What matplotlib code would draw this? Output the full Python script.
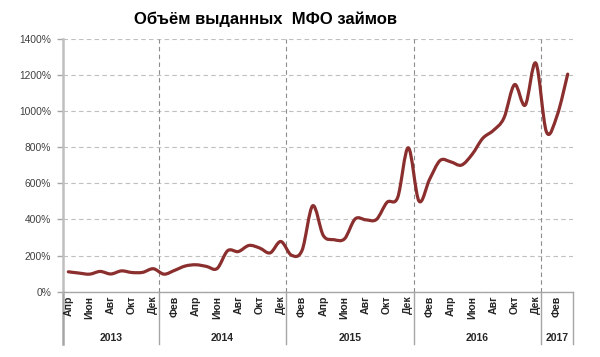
import numpy as np
import matplotlib.pyplot as plt
from matplotlib.path import Path
from matplotlib.patches import PathPatch
from matplotlib.transforms import blended_transform_factory

plt.rcParams['font.family'] = ['Liberation Sans', 'DejaVu Sans']

# monthly values, Apr 2013 .. Mar 2017 (%)
values = [110, 103, 97, 112, 98, 115, 106, 107, 127,
          97, 118, 142, 149, 140, 128, 227, 222, 256, 242, 215, 278,
          202, 229, 476, 311, 288, 293, 403, 398, 400, 495, 522, 797,
          502, 622, 727, 719, 701, 760, 849, 893, 962, 1147, 1033, 1266,
          885, 975, 1205]
month_names = ['Апр', 'Июн', 'Авг', 'Окт', 'Дек',
               'Фев', 'Апр', 'Июн', 'Авг', 'Окт', 'Дек',
               'Фев', 'Апр', 'Июн', 'Авг', 'Окт', 'Дек',
               'Фев', 'Апр', 'Июн', 'Авг', 'Окт', 'Дек',
               'Фев']
years = ['2013', '2014', '2015', '2016', '2017']
months_in_year = [9, 12, 12, 12, 3]

title = 'Объём выданных  МФО займов'
line_color = '#8B2E2E'

fig = plt.figure(figsize=(6, 3.57), dpi=100)
ax = fig.add_axes([0.105, 0.183, 0.85, 0.708])

x = np.arange(len(values), dtype=float)
y = np.array(values, dtype=float)

# smoothed line (bezier through the points, like excel "smoothed line")
verts = [(x[0], y[0])]
codes = [Path.MOVETO]
n = len(x)
for i in range(n - 1):
    p0 = np.array([x[max(i - 1, 0)], y[max(i - 1, 0)]])
    p1 = np.array([x[i], y[i]])
    p2 = np.array([x[i + 1], y[i + 1]])
    p3 = np.array([x[min(i + 2, n - 1)], y[min(i + 2, n - 1)]])
    c1 = p1 + (p2 - p0) / 6
    c2 = p2 - (p3 - p1) / 6
    verts += [tuple(c1), tuple(c2), tuple(p2)]
    codes += [Path.CURVE4] * 3
ax.add_patch(PathPatch(Path(verts, codes), facecolor='none', edgecolor=line_color,
                       lw=2.3, capstyle='round', joinstyle='round', zorder=5))

ax.set_xlim(-0.5, n - 0.5)
ax.set_ylim(0, 1400)
ax.set_yticks(np.arange(0, 1401, 200))
ax.set_yticklabels([f'{v}%' for v in range(0, 1401, 200)])
ax.tick_params(axis='y', length=4.5, width=1, color='#A6A6A6', pad=4,
               labelsize=7.4, labelcolor='#404040')
ax.set_xticks([])
ax.grid(axis='y', color='#BFBFBF', linestyle=(0, (4, 3)), lw=0.8)
ax.set_axisbelow(True)
for s in ['top', 'right']:
    ax.spines[s].set_visible(False)
ax.spines['left'].set_color('#BFBFBF')
ax.spines['left'].set_linewidth(1.8)
ax.spines['bottom'].set_color('#A6A6A6')
ax.spines['bottom'].set_linewidth(1.0)

# year separators
bounds = np.concatenate([[0], np.cumsum(months_in_year)]) - 0.5
for b in bounds[1:-1]:
    ax.axvline(b, color='#8C8C8C', linestyle=(0, (4, 3)), lw=0.8, zorder=2)

trans = blended_transform_factory(ax.transData, ax.transAxes)
axis_h = 0.708 * 3.57  # axes height in inches
def below(px):
    return -px / (axis_h * 100)

for b in bounds:
    ax.plot([b, b], [0, below(52)], transform=trans, color='#A6A6A6',
            lw=1.8 if b == bounds[0] else 1.0, clip_on=False)

for k, name in enumerate(month_names):
    ax.text(2 * k, below(4), name, transform=trans, rotation=90, ha='center',
            va='top', fontsize=7.6, fontweight='bold', color='#262626')

for k, yr in enumerate(years):
    ax.text((bounds[k] + bounds[k + 1]) / 2, below(46), yr, transform=trans,
            ha='center', va='center', fontsize=7.5, fontweight='bold', color='#262626')

fig.text(266 / 600, 1 - 19 / 357, title, ha='center', va='center',
         fontsize=12, fontweight='bold', color='#000000')

fig.savefig('out.png', dpi=100)
